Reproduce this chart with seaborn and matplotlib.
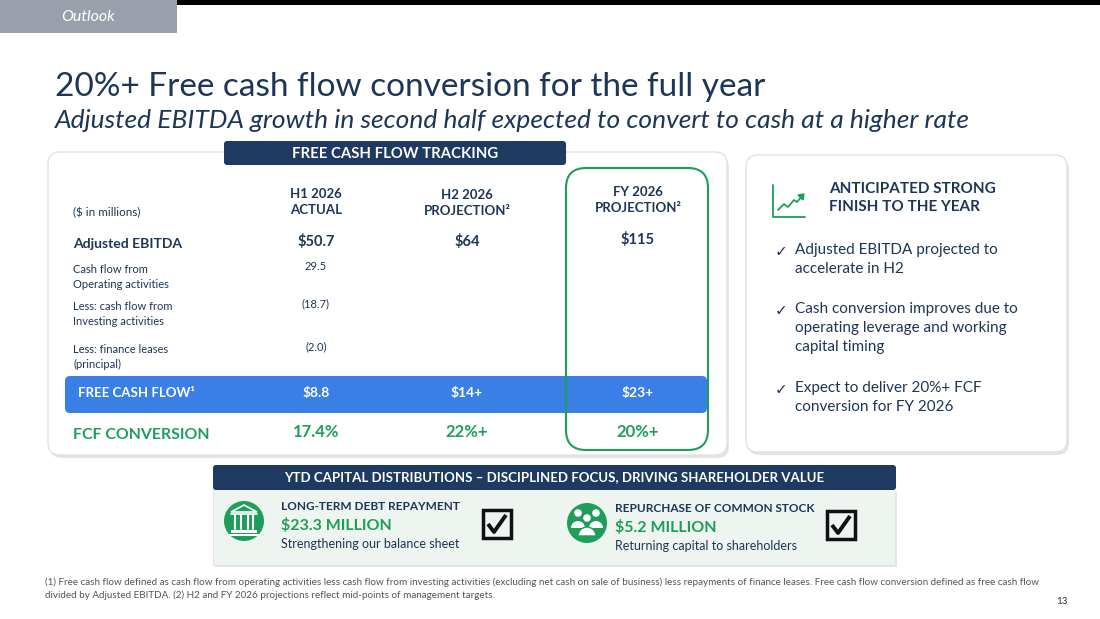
import matplotlib
matplotlib.use("Agg")
import matplotlib.pyplot as plt
import seaborn as sns
from matplotlib.patches import FancyBboxPatch, Rectangle, Circle, Wedge, Polygon

# Data
kolonnen = ["H1 2026\nACTUAL", "H2 2026\nPROJECTION²", "FY 2026\nPROJECTION²"]
ebitda = ["$50.7", "$64", "$115"]
fcf = ["$8.8", "$14+", "$23+"]
conversie = ["17.4%", "22%+", "20%+"]
regel_labels = ["Cash flow from\nOperating activities",
                "Less: cash flow from\nInvesting activities",
                "Less: finance leases\n(principal)"]
regel_h1 = ["29.5", "(18.7)", "(2.0)"]
bullets = ["Adjusted EBITDA projected to\naccelerate in H2",
           "Cash conversion improves due to\noperating leverage and working\ncapital timing",
           "Expect to deliver 20%+ FCF\nconversion for FY 2026"]
distributies = [("LONG-TERM DEBT REPAYMENT", "$23.3 MILLION", "Strengthening our balance sheet"),
                ("REPURCHASE OF COMMON STOCK", "$5.2 MILLION", "Returning capital to shareholders")]
voetnoot = ("(1) Free cash flow defined as cash flow from operating activities less cash flow from investing activities "
            "(excluding net cash on sale of business) less repayments of finance leases. Free cash flow conversion defined as free cash flow\n"
            "divided by Adjusted EBITDA. (2) H2 and FY 2026 projections reflect mid-points of management targets.")

sns.set_theme(style="white")
plt.rcParams['font.family'] = ['Lato', 'DejaVu Sans']

NAVY = "#1d3557"
BANNER = "#1f3a60"
BLAUW = "#3a7fe6"
GROEN = "#1e9e5a"

fig = plt.figure(figsize=(11, 6.19), dpi=100)
ax = fig.add_axes([0, 0, 1, 1])
ax.set_xlim(0, 1100)
ax.set_ylim(619, 0)
ax.axis("off")


def kaart(x, y, w, h, r=12, fc="white", ec="#e2e2e2", schaduw=True):
    if schaduw:
        ax.add_patch(FancyBboxPatch((x + 2, y + 3), w, h, boxstyle=f"round,pad=0,rounding_size={r}",
                                    fc="#d9d9d9", ec="none", alpha=0.7))
    ax.add_patch(FancyBboxPatch((x, y), w, h, boxstyle=f"round,pad=0,rounding_size={r}",
                                fc=fc, ec=ec, lw=1))


# kop
ax.add_patch(Rectangle((177, 0), 923, 5, fc="black", ec="none"))
ax.add_patch(Rectangle((0, 0), 177, 33, fc="#9aa0ab", ec="none"))
ax.text(88, 17, "Outlook", color="white", fontsize=11.5, style="italic", ha="center", va="center")
ax.text(55, 87, "20%+ Free cash flow conversion for the full year", color=NAVY, fontsize=24,
        ha="left", va="center")
ax.text(55, 121, "Adjusted EBITDA growth in second half expected to convert to cash at a higher rate",
        color=NAVY, fontsize=19, style="italic", ha="left", va="center")

# linker kaart
kaart(48, 152, 679, 303)
ax.add_patch(FancyBboxPatch((224, 141), 342, 24, boxstyle="round,pad=0,rounding_size=3", fc=BANNER, ec="none"))
ax.text(395, 153.5, "FREE CASH FLOW TRACKING", color="white", fontsize=10.7, weight="bold", ha="center", va="center")

kol_x = [316, 467, 638]
kop_y = [202, 203, 200]
for x, y, t in zip(kol_x, kop_y, kolonnen):
    ax.text(x, y, t, color=NAVY, fontsize=9.5, weight="bold", ha="center", va="center", linespacing=1.45)
ax.text(73, 213, "($ in millions)", color=NAVY, fontsize=8.4, ha="left", va="center")

ax.text(73, 244, "Adjusted EBITDA", color=NAVY, fontsize=10, weight="bold", ha="left", va="center")
for x, v, dy in zip(kol_x, ebitda, [0, 0, -2]):
    ax.text(x, 242 + dy, v, color=NAVY, fontsize=10.5, weight="bold", ha="center", va="center")

for y, lab, v in zip([277, 314, 357], regel_labels, regel_h1):
    ax.text(73, y, lab, color=NAVY, fontsize=8, ha="left", va="center", linespacing=1.45)
    ax.text(kol_x[0], y - 10, v, color=NAVY, fontsize=8, ha="center", va="center")

ax.add_patch(FancyBboxPatch((65, 376), 642, 37, boxstyle="round,pad=0,rounding_size=5", fc=BLAUW, ec="none"))
ax.text(78, 393, "FREE CASH FLOW¹", color="white", fontsize=9.5, weight="bold", ha="left", va="center")
for x, v in zip(kol_x, fcf):
    ax.text(x, 393, v, color="white", fontsize=10, weight="bold", ha="center", va="center")

ax.text(73, 435, "FCF CONVERSION", color=GROEN, fontsize=11.4, weight="bold", ha="left", va="center")
for x, v in zip(kol_x, conversie):
    ax.text(x, 432, v, color=GROEN, fontsize=12, weight="bold", ha="center", va="center")

ax.add_patch(FancyBboxPatch((566, 168), 142, 282, boxstyle="round,pad=0,rounding_size=20",
                            fc="none", ec=GROEN, lw=1.5))

# rechter kaart
kaart(746, 155, 321, 297)
ax.plot([773, 773, 805], [185, 217, 217], color=GROEN, lw=1.3)
ax.plot([778, 784, 788, 794, 797, 803], [210, 204, 207, 200, 202, 195], color=GROEN, lw=1.3)
ax.add_patch(Polygon([[798, 195], [804, 194], [803, 200]], closed=True, fc=GROEN, ec=GROEN, lw=1))
ax.text(829, 198, "ANTICIPATED STRONG\nFINISH TO THE YEAR", color=NAVY, fontsize=11, weight="bold",
        ha="left", va="center", linespacing=1.45)
for y, b in zip([252, 311, 390], bullets):
    ax.text(775, y, "✓", color=NAVY, fontsize=11, ha="left", va="center", family="DejaVu Sans")
    ax.text(795, y - 9, b, color=NAVY, fontsize=11, ha="left", va="top", linespacing=1.45)

# onderste paneel
ax.add_patch(Rectangle((215, 492), 682, 75, fc="#d9d9d9", ec="none", alpha=0.7))
ax.add_patch(Rectangle((213, 489), 682, 76, fc="#eef4ef", ec="#e0e6e0", lw=0.8))
ax.add_patch(FancyBboxPatch((213, 465), 683, 25, boxstyle="round,pad=0,rounding_size=3", fc=BANNER, ec="none"))
ax.text(554, 477.5, "YTD CAPITAL DISTRIBUTIONS – DISCIPLINED FOCUS, DRIVING SHAREHOLDER VALUE",
        color="white", fontsize=9.5, weight="bold", ha="center", va="center")

# bank-icoon
ax.add_patch(Circle((244, 521), 20, fc=GROEN, ec="none"))
ax.add_patch(Polygon([[231, 512], [257, 512], [244, 505]], closed=True, fc="none", ec="white", lw=1.2))
for cx in [235, 240.5, 247.5, 253]:
    ax.plot([cx, cx], [515, 529], color="white", lw=1.5)
ax.plot([231, 257], [513.5, 513.5], color="white", lw=1.2)
ax.add_patch(Rectangle((231, 530), 26, 2.5, fc="white", ec="none"))
ax.add_patch(Rectangle((229, 533.5), 30, 2.5, fc="white", ec="none"))

# mensen-icoon
ax.add_patch(Circle((587, 523), 20, fc=GROEN, ec="none"))
for hx, hy, br, by in [(578, 513, 7, 528), (596, 513, 7, 528)]:
    ax.add_patch(Circle((hx, hy), 3.8, fc="white", ec="none"))
    ax.add_patch(Wedge((hx, by), br, 180, 360, fc="white", ec="none"))
ax.add_patch(Circle((587, 518), 4.5, fc="white", ec=GROEN, lw=1))
ax.add_patch(Wedge((587, 536), 9, 180, 360, fc="white", ec=GROEN, lw=1))

for x0, (kop, bedrag, sub) in zip([281, 615], distributies):
    dy = 0 if x0 == 281 else 2
    ax.text(x0, 506 + dy, kop, color=NAVY, fontsize=8.5, weight="bold", ha="left", va="center")
    ax.text(x0, 525 + dy, bedrag, color=GROEN, fontsize=11.5, weight="bold", ha="left", va="center")
    ax.text(x0, 544 + dy, sub, color=NAVY, fontsize=9, ha="left", va="center")

for bx, by in [(483, 510), (827, 511)]:
    ax.add_patch(Rectangle((bx, by), 28, 28, fc="none", ec="#111111", lw=2.5))
    ax.plot([bx + 5, bx + 11, bx + 23], [by + 14, by + 22, by + 5], color="#111111", lw=2.8,
            solid_capstyle="butt")

# voetnoot
ax.text(45, 589, voetnoot, color="#555555", fontsize=7.1, ha="left", va="center", linespacing=1.5)
ax.text(1062, 601, "13", color="#333333", fontsize=7, ha="center", va="center")

fig.savefig("out.png", dpi=100)
